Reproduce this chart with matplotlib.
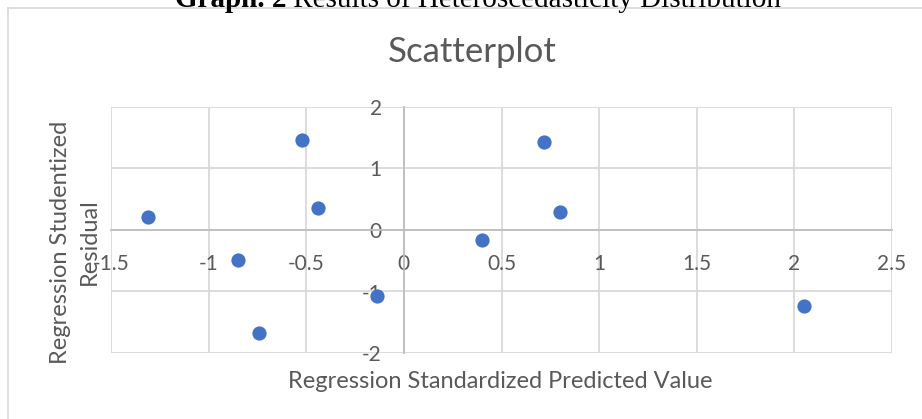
import matplotlib
matplotlib.use("Agg")
import matplotlib.pyplot as plt
from matplotlib.ticker import FuncFormatter, MultipleLocator
from matplotlib.lines import Line2D

# Data
predicted = [-1.31, -0.52, -0.44, -0.85, -0.74, -0.14, 0.72, 0.80, 0.40, 2.05]
residual = [0.21, 1.46, 0.35, -0.48, -1.67, -1.08, 1.43, 0.30, -0.17, -1.23]

caption_bold = "Graph. 2"
caption_rest = " Results of Heteroscedasticity Distribution"
chart_title = "Scatterplot"
x_title = "Regression Standardized Predicted Value"
y_title = "Regression Studentized\nResidual"

plt.rcParams['axes.unicode_minus'] = False
FONT = ['Lato', 'DejaVu Sans']
GRAY_TXT = '#595959'
GRID = '#d9d9d9'
AXIS = '#bfbfbf'
BLUE = '#4472C4'

W, H = 922, 419
fig = plt.figure(figsize=(W / 100, H / 100), dpi=100)

def fx(px):
    return px / W

def fy(py):
    return 1 - py / H

# chart frame (left & top edges visible)
fig.add_artist(Line2D([fx(8), fx(8)], [fy(8), fy(440)], color=GRID, lw=1.2, transform=fig.transFigure))
fig.add_artist(Line2D([fx(8), fx(940)], [fy(8), fy(8)], color=GRID, lw=1.2, transform=fig.transFigure))

ax = fig.add_axes([fx(111), fy(353), fx(892) - fx(111), fy(107) - fy(353)])
ax.scatter(predicted, residual, s=105, color=BLUE, zorder=3, linewidths=0)
ax.set_xlim(-1.5, 2.5)
ax.set_ylim(-2, 2)
ax.xaxis.set_major_locator(MultipleLocator(0.5))
ax.yaxis.set_major_locator(MultipleLocator(1))
fmt = FuncFormatter(lambda v, p: '%g' % v)
ax.xaxis.set_major_formatter(fmt)
ax.yaxis.set_major_formatter(fmt)
ax.grid(True, color=GRID, lw=1.3, zorder=0)
ax.set_axisbelow(True)
for s in ['top', 'right']:
    ax.spines[s].set_visible(False)
ax.spines['left'].set_position(('data', 0))
ax.spines['bottom'].set_position(('data', 0))
for s in ['left', 'bottom']:
    ax.spines[s].set_color(AXIS)
    ax.spines[s].set_linewidth(1.3)
    ax.spines[s].set_zorder(1)
ax.tick_params(axis='both', length=0, labelsize=15, labelcolor=GRAY_TXT)
ax.tick_params(axis='y', pad=16)
ax.tick_params(axis='x', pad=17.5)
for lab in ax.get_xticklabels() + ax.get_yticklabels():
    lab.set_family(FONT)
    lab.set_zorder(2)

fig.text(fx(472), fy(62), chart_title, ha='center', va='baseline', fontsize=25,
         color=GRAY_TXT, family=FONT)
fig.text(fx(500), fy(388), x_title, ha='center', va='baseline', fontsize=17,
         color=GRAY_TXT, family=FONT)
fig.text(fx(75), fy(242), y_title, ha='center', va='center', rotation=90, fontsize=17,
         color=GRAY_TXT, family=FONT, linespacing=1.45)

# caption (cut off at the top)
t1 = fig.text(fx(175), fy(7), caption_bold, ha='left', va='baseline', fontsize=21,
              fontweight='bold', family=['Liberation Serif'], color='black')
fig.canvas.draw()
bb = t1.get_window_extent()
fig.text(bb.x1 / W, fy(7), caption_rest, ha='left', va='baseline', fontsize=21,
         family=['Liberation Serif'], color='black')

fig.savefig('out.png', dpi=100)
